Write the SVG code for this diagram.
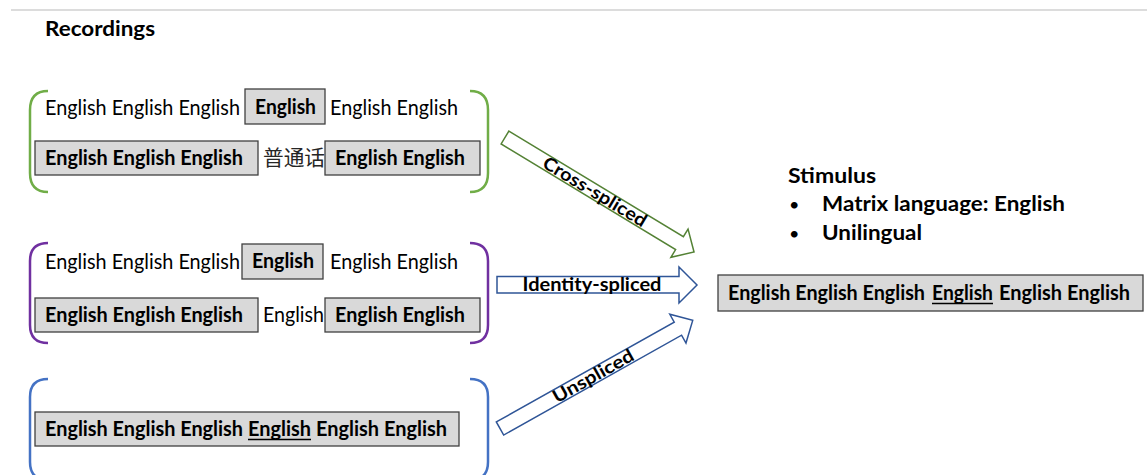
<svg xmlns="http://www.w3.org/2000/svg" width="1147" height="475" viewBox="0 0 1147 475">
<style>
text{font-family:Lato,"Liberation Sans","Noto Sans CJK SC",sans-serif;fill:#000}
.r{font-size:21px}
.b{font-size:21px;font-weight:bold}
.lab{font-size:18px;font-weight:bold}
.box{fill:#d9d9d9;stroke:#404040;stroke-width:1.3}
.br{fill:none;stroke-width:2.5}
.arr{fill:#fff;stroke-width:1.5}
</style>
<rect width="1147" height="475" fill="#fff"/>
<line x1="11" y1="10" x2="1147" y2="10" stroke="#d0d0d0" stroke-width="1.3"/>
<text x="45" y="36" class="b" textLength="110" lengthAdjust="spacingAndGlyphs">Recordings</text>

<g id="cross-group">
<path class="br" stroke="#70ad47" d="M48,91 Q30,91 30,110 L30,173 Q30,192 48,192"/>
<path class="br" stroke="#70ad47" d="M470,91 Q488,91 488,110 L488,173 Q488,192 470,192"/>
<text x="45" y="115" class="r" textLength="195" lengthAdjust="spacingAndGlyphs">English English English</text>
<rect class="box" x="245" y="89" width="80" height="35"/>
<text x="255" y="114" class="b" textLength="61" lengthAdjust="spacingAndGlyphs">English</text>
<text x="330" y="115" class="r" textLength="128" lengthAdjust="spacingAndGlyphs">English English</text>
<rect class="box" x="35" y="141" width="223" height="34"/>
<text x="45" y="165" class="b" textLength="198" lengthAdjust="spacingAndGlyphs">English English English</text>
<text x="263" y="165" class="r" fill="#333" textLength="62" lengthAdjust="spacingAndGlyphs" style="fill:#262626">普通话</text>
<rect class="box" x="325" y="141" width="155" height="34"/>
<text x="335" y="165" class="b" textLength="130" lengthAdjust="spacingAndGlyphs">English English</text>
</g>

<g id="identity-group">
<path class="br" stroke="#7030a0" d="M48,243 Q30,243 30,261 L30,325 Q30,343 48,343"/>
<path class="br" stroke="#7030a0" d="M470,243 Q488,243 488,261 L488,325 Q488,343 470,343"/>
<text x="45" y="269" class="r" textLength="195" lengthAdjust="spacingAndGlyphs">English English English</text>
<rect class="box" x="242" y="244" width="81" height="35"/>
<text x="252" y="268" class="b" textLength="62" lengthAdjust="spacingAndGlyphs">English</text>
<text x="330" y="269" class="r" textLength="128" lengthAdjust="spacingAndGlyphs">English English</text>
<rect class="box" x="35" y="298" width="223" height="34"/>
<text x="45" y="322" class="b" textLength="198" lengthAdjust="spacingAndGlyphs">English English English</text>
<text x="263" y="322" class="r" textLength="61" lengthAdjust="spacingAndGlyphs">English</text>
<rect class="box" x="325" y="298" width="155" height="34"/>
<text x="335" y="322" class="b" textLength="130" lengthAdjust="spacingAndGlyphs">English English</text>
</g>

<g id="unspliced-group">
<path class="br" stroke="#4472c4" d="M48,379 Q30,379 30,397 L30,462 Q30,480 48,480"/>
<path class="br" stroke="#4472c4" d="M470,379 Q488,379 488,397 L488,462 Q488,480 470,480"/>
<rect class="box" x="35" y="412" width="424" height="34"/>
<text x="45" y="436" class="b" textLength="198" lengthAdjust="spacingAndGlyphs">English English English</text>
<text x="248" y="436" class="b" textLength="63" lengthAdjust="spacingAndGlyphs">English</text>
<line x1="248" y1="439.5" x2="311" y2="439.5" stroke="#000" stroke-width="1.3"/>
<text x="316" y="436" class="b" textLength="131" lengthAdjust="spacingAndGlyphs">English English</text>
</g>

<g id="stimulus">
<text x="788" y="183" class="b" textLength="88" lengthAdjust="spacingAndGlyphs">Stimulus</text>
<text x="789" y="211" class="r" style="font-size:18px">•</text>
<text x="822" y="211" class="b" textLength="243" lengthAdjust="spacingAndGlyphs">Matrix language: English</text>
<text x="789" y="240" class="r" style="font-size:18px">•</text>
<text x="822" y="240" class="b" textLength="100" lengthAdjust="spacingAndGlyphs">Unilingual</text>
<rect class="box" x="718" y="275" width="425" height="36"/>
<text x="728" y="300" class="b" textLength="197" lengthAdjust="spacingAndGlyphs">English English English</text>
<text x="932" y="300" class="b" textLength="61" lengthAdjust="spacingAndGlyphs">English</text>
<line x1="932" y1="303.5" x2="993" y2="303.5" stroke="#000" stroke-width="1.3"/>
<text x="999" y="300" class="b" textLength="131" lengthAdjust="spacingAndGlyphs">English English</text>
</g>

<g id="connectors">
<g transform="translate(505,137.5) rotate(31.2)">
<path class="arr" stroke="#548235" d="M0,-7.5 L204,-7.5 L204,-16.5 L221,0 L204,16.5 L204,7.5 L0,7.5 Z"/>
<text x="105" y="6" class="lab" text-anchor="middle" textLength="118" lengthAdjust="spacingAndGlyphs">Cross-spliced</text>
</g>
<path class="arr" stroke="#2f5597" d="M497,276.5 L679,276.5 L679,267 L697,285 L679,303 L679,293 L497,293 Z"/>
<text x="592" y="291" class="lab" text-anchor="middle" textLength="139" lengthAdjust="spacingAndGlyphs">Identity-spliced</text>
<g transform="translate(500,428.5) rotate(-29.3)">
<path class="arr" stroke="#2f5597" d="M0,-7.5 L204,-7.5 L204,-16.5 L221,0 L204,16.5 L204,7.5 L0,7.5 Z"/>
<text x="107" y="6" class="lab" text-anchor="middle" textLength="90" lengthAdjust="spacingAndGlyphs">Unspliced</text>
</g>
</g>
</svg>
